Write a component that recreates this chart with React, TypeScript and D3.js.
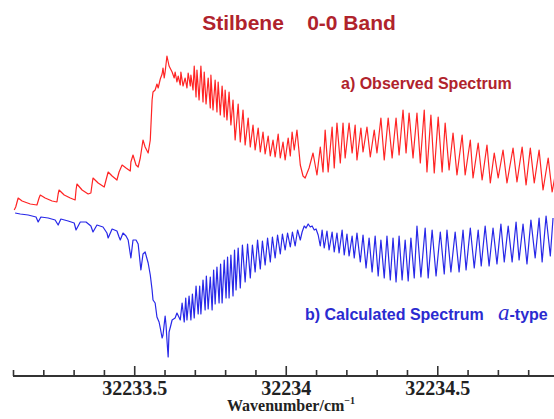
import { useEffect, useRef } from 'react';
import * as d3 from 'd3';

// wavenumber offsets are relative to 32233 cm-1, intensity in arbitrary units
const WN0 = 32233;

const observed: [number, number][] = [
  [0.104, 170], [0.109, 173], [0.117, 182], [0.130, 179], [0.157, 176], [0.179, 175], [0.186, 182], [0.190, 185],
  [0.206, 182], [0.229, 179], [0.245, 178], [0.249, 186], [0.252, 190], [0.269, 185], [0.289, 182], [0.305, 180],
  [0.308, 190], [0.311, 196], [0.328, 190], [0.348, 186], [0.357, 187], [0.361, 196], [0.364, 202], [0.381, 197],
  [0.401, 193], [0.407, 200], [0.414, 208], [0.427, 204], [0.443, 200], [0.450, 208], [0.460, 215], [0.473, 212],
  [0.487, 209], [0.489, 218], [0.496, 225], [0.506, 215], [0.513, 213], [0.520, 222], [0.529, 240], [0.536, 233],
  [0.546, 227], [0.553, 240], [0.559, 280], [0.562, 288], [0.569, 290], [0.575, 296], [0.579, 292], [0.586, 301],
  [0.592, 306], [0.595, 312], [0.599, 302], [0.602, 308], [0.608, 324], [0.615, 314], [0.625, 308],
  [0.632, 302], [0.635, 308], [0.641, 298], [0.645, 304], [0.652, 295], [0.654, 308], [0.661, 294], [0.668, 302],
  [0.674, 292], [0.678, 307], [0.685, 294], [0.687, 305], [0.694, 290],
  [0.698, 314], [0.704, 283], [0.707, 310], [0.714, 280], [0.720, 314], [0.727, 278], [0.731, 308], [0.737, 276],
  [0.744, 302], [0.751, 272], [0.753, 305], [0.760, 270], [0.767, 300], [0.773, 268], [0.777, 298], [0.784, 265],
  [0.790, 294], [0.797, 263], [0.800, 290], [0.806, 260], [0.813, 288], [0.819, 255],
  [0.826, 280], [0.833, 240], [0.843, 276], [0.850, 238], [0.859, 270], [0.866, 235], [0.876, 262], [0.883, 233],
  [0.892, 255], [0.899, 230], [0.909, 252], [0.916, 228], [0.925, 248], [0.932, 226], [0.942, 244], [0.949, 224],
  [0.958, 240], [0.965, 223], [0.975, 246], [0.982, 222], [0.991, 238], [0.998, 220], [1.008, 242], [1.015, 224],
  [1.021, 248], [1.028, 230], [1.037, 250], [1.048, 215], [1.057, 204], [1.064, 202], [1.077, 212],
  [1.090, 227], [1.103, 205], [1.114, 233], [1.123, 208], [1.130, 250], [1.140, 208], [1.153, 253], [1.160, 212],
  [1.169, 257], [1.180, 217], [1.189, 257], [1.196, 222], [1.209, 257], [1.219, 227], [1.229, 255], [1.235, 220],
  [1.248, 252], [1.255, 228], [1.268, 253], [1.279, 223], [1.292, 250], [1.301, 227], [1.314, 262], [1.325, 220],
  [1.338, 262], [1.351, 222], [1.364, 262], [1.374, 225], [1.387, 270], [1.397, 227], [1.407, 267], [1.420, 222],
  [1.433, 267], [1.444, 217], [1.457, 270], [1.466, 208], [1.479, 265], [1.490, 207], [1.503, 263], [1.516, 208],
  [1.526, 257], [1.539, 210], [1.552, 247], [1.565, 205], [1.582, 245], [1.592, 205], [1.609, 240], [1.618, 202],
  [1.635, 237], [1.648, 200], [1.664, 235], [1.675, 197], [1.688, 227], [1.701, 202], [1.717, 230], [1.730, 197],
  [1.750, 232], [1.763, 198], [1.780, 233], [1.793, 195], [1.807, 232], [1.820, 197], [1.836, 230], [1.849, 190],
  [1.866, 222], [1.879, 188], [1.892, 210],
];

const calculated: [number, number][] = [
  [0.107, 167], [0.124, 166], [0.150, 165], [0.176, 163], [0.183, 158], [0.192, 163], [0.216, 162], [0.239, 160],
  [0.249, 155], [0.258, 161], [0.282, 159], [0.302, 157], [0.308, 150], [0.322, 158], [0.341, 158], [0.357, 154],
  [0.364, 148], [0.377, 155], [0.397, 153], [0.410, 147], [0.414, 142], [0.427, 151], [0.443, 149], [0.450, 143],
  [0.454, 140], [0.463, 147], [0.473, 144], [0.480, 140],
  [0.489, 122], [0.496, 140], [0.506, 140], [0.513, 136], [0.522, 110], [0.529, 126], [0.536, 128], [0.546, 117],
  [0.553, 105], [0.559, 90], [0.562, 80], [0.569, 77], [0.575, 63], [0.582, 58], [0.586, 52], [0.592, 42],
  [0.595, 45], [0.602, 64], [0.605, 55], [0.608, 40], [0.612, 23], [0.615, 48], [0.621, 55], [0.625, 60],
  [0.635, 62], [0.641, 67],
  [0.652, 60], [0.658, 77], [0.665, 58], [0.670, 82], [0.674, 60], [0.681, 84], [0.687, 60], [0.692, 86],
  [0.698, 62], [0.704, 94], [0.711, 66], [0.716, 94], [0.720, 66], [0.727, 100], [0.734, 70], [0.738, 104],
  [0.744, 71], [0.751, 103], [0.757, 70], [0.762, 110], [0.767, 76], [0.773, 113], [0.780, 77], [0.785, 116],
  [0.790, 77], [0.797, 120], [0.803, 82], [0.808, 123], [0.813, 82], [0.819, 125], [0.826, 84], [0.831, 130],
  [0.836, 90], [0.843, 132], [0.850, 92], [0.857, 135], [0.866, 98], [0.874, 136], [0.883, 102], [0.890, 135],
  [0.899, 108], [0.907, 140], [0.916, 111], [0.923, 139], [0.932, 115], [0.940, 142], [0.949, 118], [0.956, 143],
  [0.965, 122], [0.973, 145], [0.982, 126], [0.989, 146], [0.998, 130], [1.006, 147], [1.015, 133], [1.022, 148],
  [1.031, 134], [1.039, 150], [1.048, 140],
  [1.054, 148], [1.061, 154], [1.067, 152], [1.074, 156], [1.081, 153], [1.087, 154], [1.094, 150], [1.100, 151],
  [1.107, 145], [1.114, 134], [1.120, 150], [1.127, 132], [1.136, 149], [1.143, 130], [1.153, 148], [1.160, 128],
  [1.169, 147], [1.176, 127], [1.186, 150], [1.193, 125], [1.202, 146], [1.209, 124], [1.219, 144], [1.226, 122],
  [1.235, 147], [1.246, 118], [1.255, 145], [1.265, 112], [1.275, 142], [1.285, 108], [1.295, 144], [1.305, 104],
  [1.314, 140], [1.325, 102], [1.334, 144], [1.345, 100], [1.354, 142], [1.364, 98], [1.374, 144], [1.384, 100],
  [1.394, 140], [1.404, 99], [1.413, 142], [1.424, 102], [1.433, 154], [1.446, 103], [1.460, 152], [1.470, 102],
  [1.483, 150], [1.496, 104], [1.510, 148], [1.523, 106], [1.532, 150], [1.545, 108], [1.559, 148], [1.572, 108],
  [1.585, 150], [1.595, 110], [1.609, 152], [1.622, 112], [1.635, 150], [1.645, 114], [1.658, 154], [1.671, 114],
  [1.684, 152], [1.697, 116], [1.710, 156], [1.721, 118], [1.734, 154], [1.747, 118], [1.760, 158], [1.770, 120],
  [1.783, 156], [1.796, 116], [1.809, 160], [1.823, 122], [1.836, 162], [1.846, 118], [1.859, 164], [1.873, 124],
  [1.882, 162],
];

const majorTicks = [32233.5, 32234, 32234.5];
const minorTicks = [
  32233.1, 32233.2, 32233.3, 32233.4, 32233.6, 32233.7, 32233.8, 32233.9,
  32234.1, 32234.2, 32234.3, 32234.4, 32234.6, 32234.7, 32234.8,
];

const W = 554;
const H = 419;

export default function App() {
  const svgRef = useRef<SVGSVGElement>(null);

  useEffect(() => {
    if (!svgRef.current) return;
    const svg = d3.select(svgRef.current);
    svg.selectAll('*').remove();

    const axisY = 376;
    const x = d3.scaleLinear().domain([32233.1, 32235.0]).range([13, 588.8]);
    const y = d3.scaleLinear().domain([0, 340]).range([380, 40]);

    const line = d3
      .line<[number, number]>()
      .x(d => x(WN0 + d[0]))
      .y(d => y(d[1]));

    svg.append('path')
      .datum(observed)
      .attr('d', line)
      .attr('fill', 'none')
      .attr('stroke', '#ff2424')
      .attr('stroke-width', 1.2)
      .attr('stroke-linejoin', 'round');

    svg.append('path')
      .datum(calculated)
      .attr('d', line)
      .attr('fill', 'none')
      .attr('stroke', '#2828e8')
      .attr('stroke-width', 1.2)
      .attr('stroke-linejoin', 'round');

    // minor ticks
    const minor = svg.append('g')
      .attr('transform', `translate(0,${axisY})`)
      .call(d3.axisBottom(x).tickValues(minorTicks).tickSize(-6).tickFormat(() => ''));
    minor.select('.domain').remove();

    // major ticks + labels
    const major = svg.append('g')
      .attr('transform', `translate(0,${axisY})`)
      .call(d3.axisBottom(x).tickValues(majorTicks).tickSize(-10).tickSizeOuter(0).tickPadding(5)
        .tickFormat(d => String(d)));
    major.select('.domain').remove();
    major.selectAll('text')
      .attr('fill', '#222')
      .style('font-family', '"Liberation Serif", "Times New Roman", serif')
      .style('font-weight', 'bold')
      .style('font-size', '20px');

    svg.selectAll('.tick line').attr('stroke', '#333').attr('stroke-width', 1.6);

    svg.append('line')
      .attr('x1', 13).attr('x2', W)
      .attr('y1', axisY).attr('y2', axisY)
      .attr('stroke', '#333')
      .attr('stroke-width', 2);

    const xl = svg.append('text')
      .attr('x', 291).attr('y', 411)
      .attr('text-anchor', 'middle')
      .attr('fill', '#222')
      .style('font-family', '"Liberation Serif", "Times New Roman", serif')
      .style('font-weight', 'bold')
      .style('font-size', '16px');
    xl.append('tspan').text('Wavenumber/cm');
    xl.append('tspan').attr('dy', -7).style('font-size', '10px').text('−1');

    const sans = 'Arial, "Liberation Sans", Helvetica, sans-serif';

    svg.append('text')
      .attr('x', 299).attr('y', 30)
      .attr('text-anchor', 'middle')
      .attr('fill', '#b0232c')
      .style('font-family', sans)
      .style('font-weight', 'bold')
      .style('font-size', '21px')
      .style('white-space', 'pre')
      .text('Stilbene    0-0 Band');

    svg.append('text')
      .attr('x', 341).attr('y', 89)
      .attr('fill', '#b0232c')
      .style('font-family', sans)
      .style('font-weight', 'bold')
      .style('font-size', '16px')
      .text('a) Observed Spectrum');

    svg.append('text')
      .attr('x', 305).attr('y', 320)
      .attr('fill', '#2b2bd0')
      .style('font-family', sans)
      .style('font-weight', 'bold')
      .style('font-size', '16px')
      .text('b) Calculated Spectrum');

    const at = svg.append('text')
      .attr('x', 498).attr('y', 320)
      .attr('fill', '#2b2bd0');
    at.append('tspan')
      .style('font-family', '"Liberation Serif", "Times New Roman", serif')
      .style('font-style', 'italic')
      .style('font-size', '23px')
      .text('a');
    at.append('tspan')
      .style('font-family', sans)
      .style('font-weight', 'bold')
      .style('font-size', '16px')
      .text('-type');
  }, []);

  return (
    <svg
      ref={svgRef}
      width={W}
      height={H}
      style={{ position: 'absolute', left: 0, top: 0, background: '#fff' }}
    />
  );
}
